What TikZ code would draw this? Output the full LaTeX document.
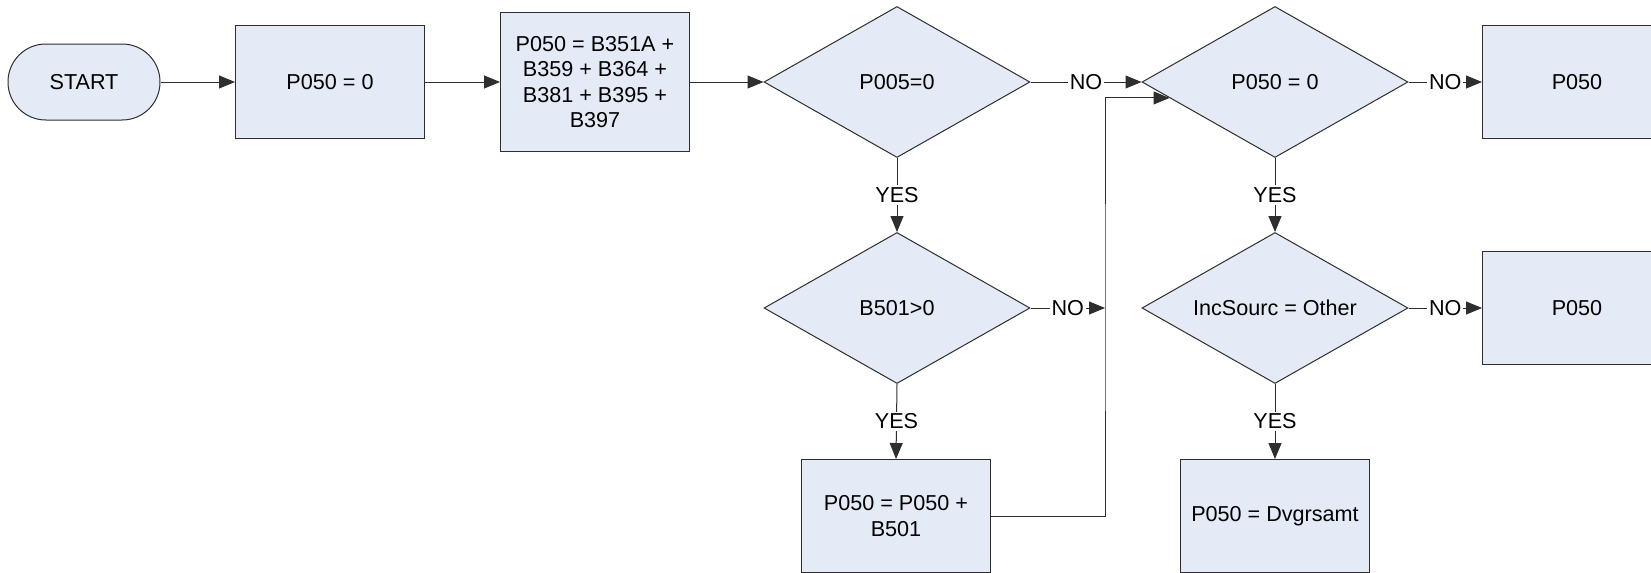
\documentclass[tikz,border=0pt]{standalone}
\usepackage{fontspec}
\setmainfont{Liberation Sans}
\usetikzlibrary{arrows.meta,calc,shapes.geometric}
\definecolor{boxfill}{HTML}{E5EBF6}
\definecolor{edge}{HTML}{2E2E2E}

\begin{document}
\begin{tikzpicture}[x=.5pt,y=-.5pt,>={Triangle[length=8pt,width=6.5pt]},line width=.5pt,every node/.style={font=\fontsize{10.8}{12.6}\selectfont,text=black},proc/.style={draw=edge,fill=boxfill,minimum width=94.5pt,minimum height=56.5pt,align=center,inner sep=2pt},test/.style={diamond,draw=edge,fill=boxfill,aspect=1.76,minimum width=133pt,minimum height=75.5pt,inner sep=1pt},term/.style={draw=edge,fill=boxfill,rounded corners=18.9pt,minimum width=76pt,minimum height=38pt},flow/.style={->,draw=edge},lbl/.style={fill=white,inner sep=1pt}]
\useasboundingbox (0,0) rectangle (1651,573);

\node[term] (start) at (84,82) {START};
\node[proc] (init) at (330,82) {P050 = 0};
\node[proc,minimum height=69.5pt] (sum) at (595,82) {P050 = B351A +\\B359 + B364 +\\B381 + B395 +\\B397};
\node[test] (chk) at (897,82) {P005=0};
\node[test] (zero) at (1275,82) {P050 = 0};
\node[proc] (outA) at (1577,82) {P050};
\node[test] (pos) at (897,308) {B501>0};
\node[test] (src) at (1275,308) {IncSourc = Other};
\node[proc] (outB) at (1577,308) {P050};
\node[proc] (add) at (896,516) {P050 = P050 +\\B501};
\node[proc] (dvg) at (1275,516) {P050 = Dvgrsamt};

\coordinate (riser) at (1105,308);
\coordinate (in2) at ($(zero.west)!.21!(zero.south)$);

\draw[flow] (start.east) -- (init.west);
\draw[flow] (init.east) -- (sum.west);
\draw[flow] (sum.east) -- (chk.west);
\draw[flow] (chk.east) -- node[lbl] {NO} (zero.west);
\draw[flow] (zero.east) -- node[lbl] {NO} (outA.west);
\draw[flow] (chk.south) -- node[lbl] {YES} (pos.north);
\draw[flow] (zero.south) -- node[lbl] {YES} (src.north);
\draw[flow] (pos.east) -- node[lbl] {NO} (riser);
\draw[flow] (src.east) -- node[lbl] {NO} (outB.west);
\draw[flow] (pos.south) -- node[lbl] {YES} (add.north);
\draw[flow] (src.south) -- node[lbl] {YES} (dvg.north);
\draw[flow] (add.east) -| (riser) |- (in2);

\end{tikzpicture}
\end{document}
